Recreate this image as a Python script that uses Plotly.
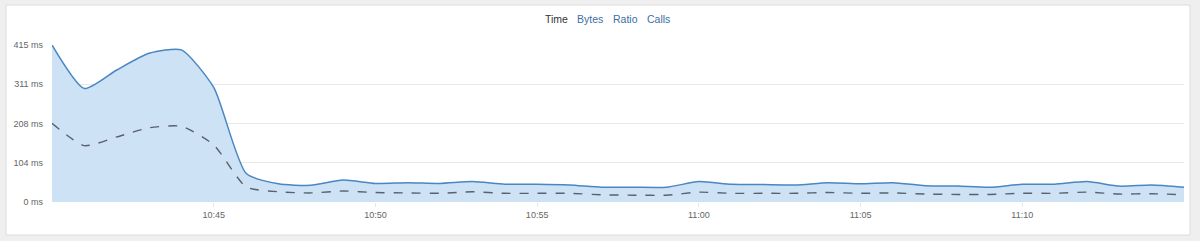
import plotly.graph_objects as go

times = ["2024-01-01 10:%02d" % m for m in range(40, 60)] + ["2024-01-01 11:%02d" % m for m in range(0, 16)]

total_ms = [415, 300, 349, 393, 402, 303, 76, 48, 44, 58,
            49, 51, 49, 54, 47, 47, 45, 39, 39, 39,
            54, 47, 46, 45, 51, 48, 51, 43, 42, 39,
            47, 47, 54, 42, 45, 39]

self_ms = [208, 149, 172, 196, 200, 151, 40, 27, 24, 29,
           25, 24, 23, 27, 23, 23, 23, 19, 18, 18,
           26, 23, 23, 23, 25, 23, 24, 21, 20, 20,
           23, 23, 26, 21, 22, 19]

ytick_vals = [0, 103.75, 207.5, 311.25, 415]
ytick_text = ["0 ms", "104 ms", "208 ms", "311 ms", "415 ms"]

xtick_vals = ["2024-01-01 10:45", "2024-01-01 10:50", "2024-01-01 10:55",
              "2024-01-01 11:00", "2024-01-01 11:05", "2024-01-01 11:10"]
xtick_text = ["10:45", "10:50", "10:55", "11:00", "11:05", "11:10"]

tabs = ["Time", "Bytes", "Ratio", "Calls"]
tab_colors = ["#333333", "#3b6fa6", "#3b6fa6", "#3b6fa6"]
tab_x_px = [556, 590, 625, 658]

L, R, T, B = 52, 16, 45, 39
W, H = 1200, 241
pw, ph = W - L - R, H - T - B

fig = go.Figure()
fig.add_trace(go.Scatter(
    x=times, y=total_ms, mode="lines", fill="tozeroy",
    fillcolor="rgb(206,226,245)",
    line=dict(color="#4a86c2", width=1.5, shape="spline", smoothing=0.6),
    hoverinfo="skip", showlegend=False))
fig.add_trace(go.Scatter(
    x=times, y=self_ms, mode="lines",
    line=dict(color="#5a616c", width=1.4, dash="dash", shape="spline", smoothing=0.6),
    hoverinfo="skip", showlegend=False))

def px_to_paper_x(px):
    return (px - L) / pw

def px_to_paper_y(py):
    return (H - B - py) / ph

shapes = [dict(type="rect", xref="paper", yref="paper",
               x0=px_to_paper_x(6), x1=px_to_paper_x(1190),
               y0=px_to_paper_y(235), y1=px_to_paper_y(5),
               fillcolor="white", line=dict(color="#dcdcdc", width=1), layer="below")]

annotations = []
for t, c, xp in zip(tabs, tab_colors, tab_x_px):
    annotations.append(dict(text=t, x=px_to_paper_x(xp), y=px_to_paper_y(19),
                            xref="paper", yref="paper", showarrow=False,
                            xanchor="center", yanchor="middle",
                            font=dict(size=10.5, color=c)))

fig.update_layout(
    width=W, height=H,
    margin=dict(l=L, r=R, t=T, b=B),
    paper_bgcolor="#efefef", plot_bgcolor="white",
    font=dict(family="Liberation Sans, Arial, sans-serif", size=9, color="#666666"),
    shapes=shapes, annotations=annotations,
    xaxis=dict(range=["2024-01-01 10:40", "2024-01-01 11:15"],
               tickvals=xtick_vals, ticktext=xtick_text,
               showgrid=False, zeroline=False, showline=False,
               ticks="outside", ticklen=4, tickcolor="#e6e6e6",
               tickfont=dict(size=9, color="#666666")),
    yaxis=dict(range=[0, 415], tickvals=ytick_vals, ticktext=ytick_text,
               showgrid=True, gridcolor="#e8e8e8", gridwidth=1,
               zeroline=False, showline=False, ticks="",
               ticklabelstandoff=8,
               tickfont=dict(size=9, color="#666666")),
)

fig.write_html("out.html")
